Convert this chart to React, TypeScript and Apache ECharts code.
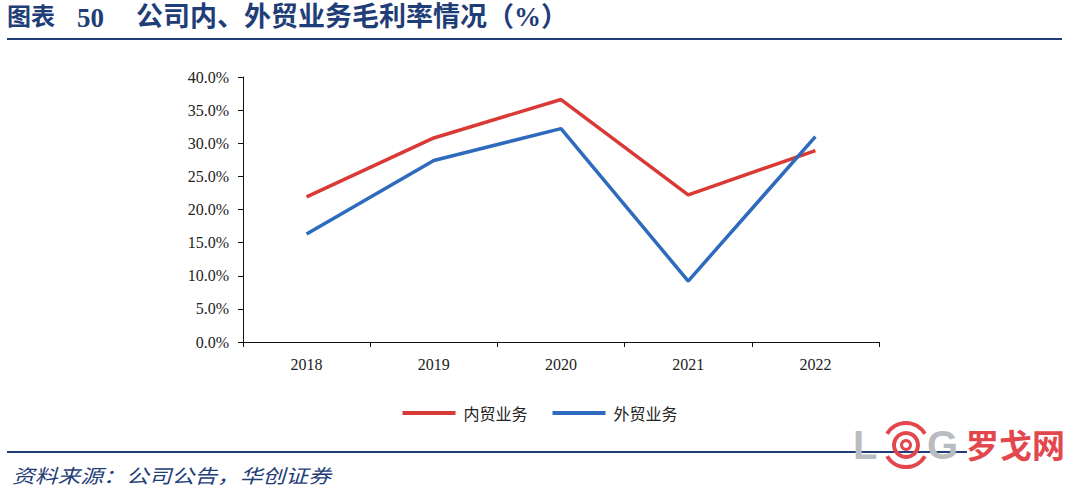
import React, { useEffect, useRef } from "react";
import * as echarts from "echarts";

const categories = ["2018", "2019", "2020", "2021", "2022"];
const seriesNames = ["内贸业务", "外贸业务"];
const domesticMargin = [21.9, 30.8, 36.6, 22.2, 28.9];
const foreignMargin = [16.3, 27.4, 32.2, 9.2, 31.0];
const yMin = 0;
const yMax = 40;
const yInterval = 5;

const titlePrefix = "图表";
const titleNumber = "50";
const titleText = "公司内、外贸业务毛利率情况（%）";
const sourceText = "资料来源：公司公告，华创证券";

const NAVY = "#1f3e78";
const RED = "#d93a35";
const BLUE = "#2e6bbd";
const LOGO_RED = "#e2474d";
const LOGO_GRAY = "#b9bdc1";

export default function App() {
  const ref = useRef<HTMLDivElement>(null);
  useEffect(() => {
    if (!ref.current) return;
    const chart = echarts.init(ref.current, null, { renderer: "svg" });
    const serif = "'Liberation Serif', 'Noto Sans CJK SC', serif";
    chart.setOption({
      animation: false,
      backgroundColor: "#ffffff",
      grid: { left: 243, top: 77, right: 201, bottom: 158, containLabel: false },
      legend: {
        data: seriesNames,
        left: "center",
        top: 400,
        itemWidth: 53,
        itemHeight: 4,
        itemGap: 25,
        icon: "rect",
        textStyle: { fontFamily: "'Noto Sans CJK SC', serif", fontSize: 16, color: "#222", padding: [0, 0, 0, 3] },
      },
      xAxis: {
        type: "category",
        data: categories,
        boundaryGap: true,
        axisLine: { lineStyle: { color: "#111", width: 1 } },
        axisTick: { show: true, length: 5, lineStyle: { color: "#111" } },
        axisLabel: { fontFamily: serif, fontSize: 16, color: "#222", margin: 14 },
        splitLine: { show: false },
      },
      yAxis: {
        type: "value",
        min: yMin,
        max: yMax,
        interval: yInterval,
        axisLine: { show: true, lineStyle: { color: "#111", width: 1 } },
        axisTick: { show: true, length: 5, lineStyle: { color: "#111" } },
        axisLabel: {
          fontFamily: serif,
          fontSize: 16,
          color: "#222",
          margin: 14,
          formatter: (v: number) => v.toFixed(1) + "%",
        },
        splitLine: { show: false },
      },
      series: [
        {
          name: seriesNames[0],
          type: "line",
          data: domesticMargin,
          symbol: "none",
          lineStyle: { color: RED, width: 3.5 },
          itemStyle: { color: RED },
        },
        {
          name: seriesNames[1],
          type: "line",
          data: foreignMargin,
          symbol: "none",
          lineStyle: { color: BLUE, width: 3.5 },
          itemStyle: { color: BLUE },
        },
      ],
      graphic: [
        {
          type: "text",
          x: 7,
          y: 17,
          style: { text: titlePrefix, fontFamily: serif, fontWeight: "bold", fontSize: 24, fill: NAVY, verticalAlign: "middle" },
        },
        {
          type: "text",
          x: 77,
          y: 18,
          style: { text: titleNumber, fontFamily: serif, fontWeight: "bold", fontSize: 27, fill: NAVY, verticalAlign: "middle" },
        },
        {
          type: "text",
          x: 136,
          y: 17,
          style: { text: titleText, fontFamily: serif, fontWeight: "bold", fontSize: 27, fill: NAVY, verticalAlign: "middle" },
        },
        {
          type: "rect",
          shape: { x: 7, y: 38, width: 1055, height: 2 },
          style: { fill: NAVY },
        },
        {
          type: "rect",
          shape: { x: 7, y: 451, width: 960, height: 2 },
          style: { fill: NAVY },
        },
        {
          type: "text",
          x: 12,
          y: 475,
          scaleX: 1.2,
          style: {
            text: sourceText,
            fontFamily: "'Noto Sans CJK SC', serif",
            fontStyle: "italic",
            fontSize: 19,
            fill: NAVY,
            verticalAlign: "middle",
          },
        },
        // logo
        {
          type: "text",
          x: 853,
          y: 425,
          style: { text: "L", fontFamily: "'Liberation Sans', sans-serif", fontWeight: "bold", fontSize: 40, fill: LOGO_GRAY },
        },
        {
          type: "text",
          x: 927,
          y: 425,
          style: { text: "G", fontFamily: "'Liberation Sans', sans-serif", fontWeight: "bold", fontSize: 40, fill: LOGO_GRAY },
        },
        {
          type: "ring",
          shape: { cx: 906, cy: 445, r: 6, r0: 3 },
          style: { fill: LOGO_RED },
        },
        {
          type: "ring",
          shape: { cx: 906, cy: 445, r: 14, r0: 10 },
          style: { fill: LOGO_RED },
        },
        {
          type: "arc",
          shape: { cx: 906, cy: 445, r: 22, startAngle: -Math.PI * 0.83, endAngle: -Math.PI * 0.17, clockwise: true },
          style: { stroke: LOGO_RED, lineWidth: 4, fill: "none" },
        },
        {
          type: "arc",
          shape: { cx: 906, cy: 445, r: 22, startAngle: Math.PI * 0.17, endAngle: Math.PI * 0.83, clockwise: true },
          style: { stroke: LOGO_RED, lineWidth: 4, fill: "none" },
        },
        {
          type: "text",
          x: 966,
          y: 427,
          style: { text: "罗戈网", fontFamily: "'Noto Sans CJK SC', sans-serif", fontWeight: "bold", fontSize: 33, fill: LOGO_RED },
        },
      ],
    });
    return () => chart.dispose();
  }, []);
  return (
    <div
      ref={ref}
      style={{ position: "absolute", left: 0, top: 0, width: 1080, height: 500, background: "#fff" }}
    />
  );
}
